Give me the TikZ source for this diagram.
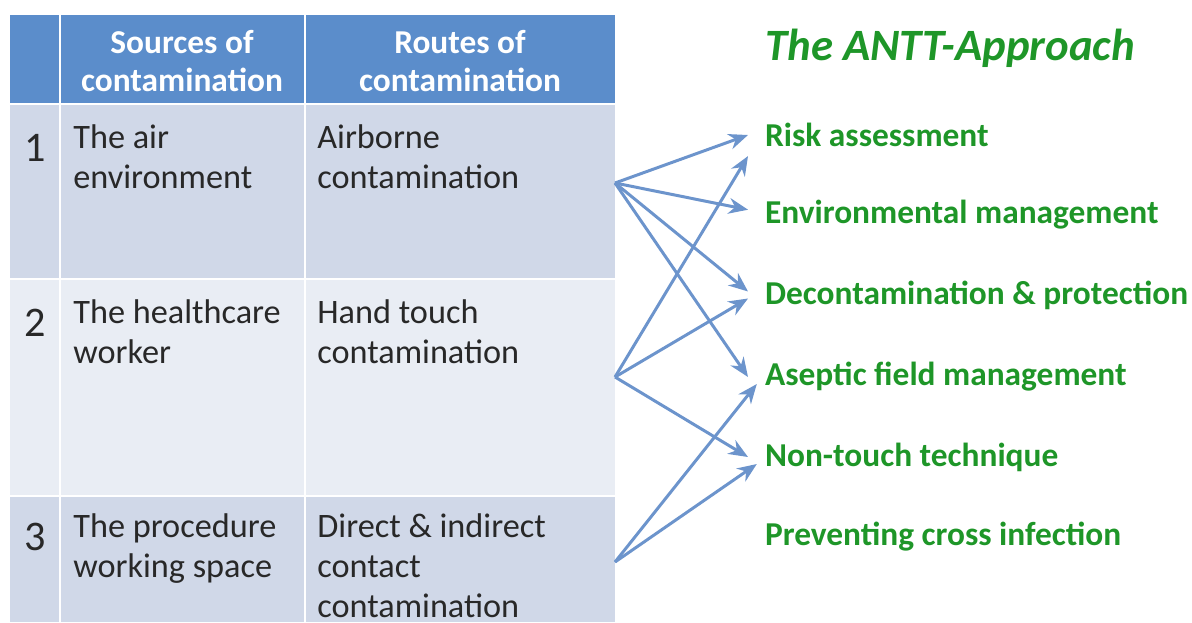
\documentclass[tikz,border=0pt]{standalone}
\usepackage{fontspec}
\setmainfont{Carlito}
\usetikzlibrary{arrows.meta}
\definecolor{hdrblue}{RGB}{91,141,203}
\definecolor{rowdark}{RGB}{208,216,232}
\definecolor{rowlight}{RGB}{233,237,244}
\definecolor{arrblue}{RGB}{108,148,204}
\definecolor{anttgreen}{RGB}{30,150,40}
\definecolor{celltext}{RGB}{40,40,40}
\tikzset{
  hdr/.style={white,font=\bfseries\fontsize{19}{21.5}\selectfont,align=center},
  cell/.style={celltext,font=\fontsize{19.5}{23}\selectfont,align=left,anchor=north west,inner sep=0pt},
  num/.style={celltext,font=\fontsize{24}{26}\selectfont},
  item/.style={anttgreen,font=\bfseries\fontsize{19}{22}\selectfont,anchor=west,inner xsep=9.5pt},
  arr/.style={arrblue,line width=1.7pt,-{Stealth[length=11pt,width=9pt]}},
}
\begin{document}
\begin{tikzpicture}[x=0.02cm,y=-0.02cm]
	\useasboundingbox (0,0) rectangle (1192,622);
	% table
	\fill[hdrblue] (10,15) rectangle (615,103);
	\fill[rowdark] (10,105) rectangle (615,278);
	\fill[rowlight] (10,280) rectangle (615,495);
	\fill[rowdark] (10,497) rectangle (615,622);
	\draw[white,line width=1.2pt] (60,15)--(60,622);
	\draw[white,line width=1.2pt] (305,15)--(305,622);
	\node[hdr] (h1) at (182,61) {Sources of\\contamination};
	\node[hdr] (h2) at (460,61) {Routes of\\contamination};
	\node[num] (n1) at (35,148) {1};
	\node[num] (n2) at (35,323) {2};
	\node[num] (n3) at (35,537) {3};
	\node[cell] (src1) at (73,124) {The air\\environment};
	\node[cell] (rte1) at (317,124) {Airborne\\contamination};
	\node[cell] (src2) at (73,299) {The healthcare\\worker};
	\node[cell] (rte2) at (317,299) {Hand touch\\contamination};
	\node[cell] (src3) at (73,513) {The procedure\\working space};
	\node[cell] (rte3) at (317,513) {Direct \& indirect\\contact\\contamination};
	% the approach
	\node[anttgreen,anchor=west,inner sep=0pt,font=\bfseries\itshape\fontsize{25.5}{28}\selectfont] (title) at (765,48) {The ANTT-Approach};
	\node[item] (risk) at (748,135) {Risk assessment};
	\node[item] (env) at (748,215) {Environmental management};
	\node[item] (decon) at (748,295) {Decontamination \& protection};
	\node[item] (asep) at (748,377) {Aseptic field management};
	\node[item] (nontouch) at (748,457) {Non-touch technique};
	\node[item] (cross) at (748,537) {Preventing cross infection};
	\coordinate (s1) at (615,183);
	\coordinate (s2) at (615,377);
	\coordinate (s3) at (615,562);
	\draw[arr] (s1)--(risk.west);
	\draw[arr] (s1)--([yshift=3pt]env.west);
	\draw[arr] (s1)--([yshift=2pt]decon.west);
	\draw[arr] (s1)--(asep.west);
	\draw[arr] (s2)--([yshift=-12pt]risk.west);
	\draw[arr] (s2)--([yshift=-2pt]decon.west);
	\draw[arr] (s2)--(nontouch.west);
	\draw[arr] (s3)--([xshift=5pt,yshift=-4pt]asep.west);
	\draw[arr] (s3)--([xshift=5pt,yshift=-4pt]nontouch.west);
\end{tikzpicture}
\end{document}
